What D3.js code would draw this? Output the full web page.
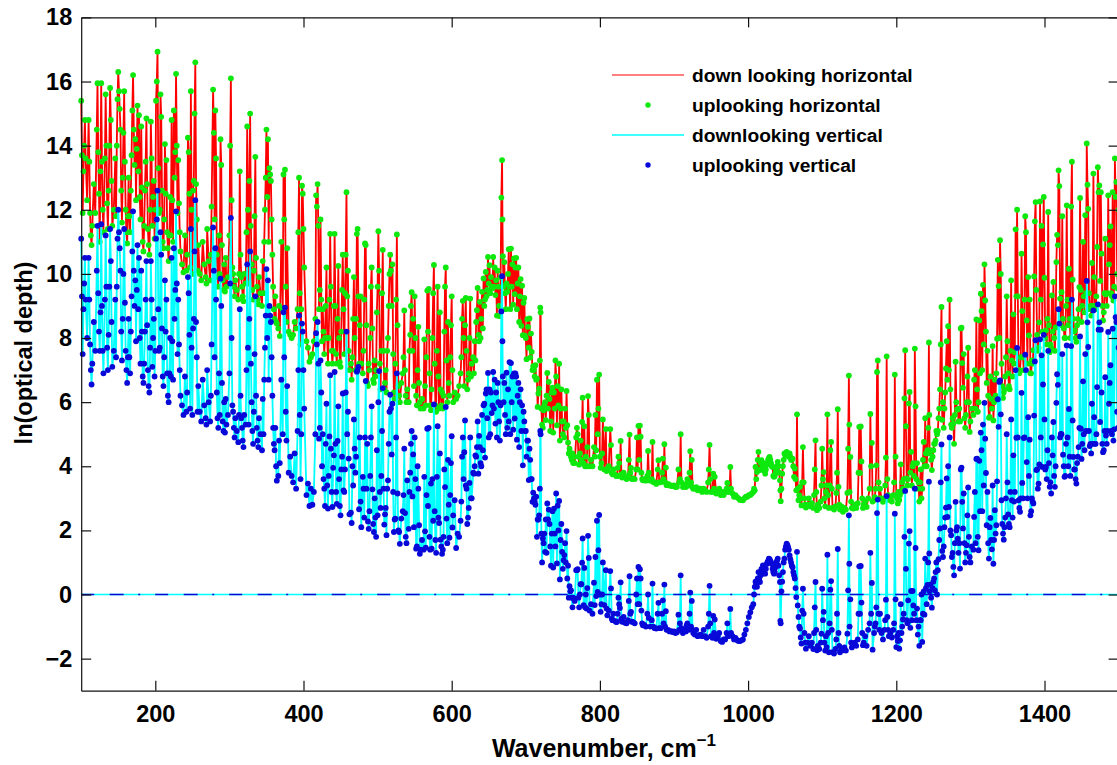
<!DOCTYPE html>
<html>
<head>
<meta charset="utf-8">
<title>Optical depth</title>
<script src="https://cdn.jsdelivr.net/npm/d3@7"></script>
<style>
  html, body { margin: 0; padding: 0; background: #fff; overflow: hidden; }
  text { font-family: "Liberation Sans", Arial, sans-serif; font-weight: bold; fill: #000; }
</style>
</head>
<body>
<div id="chart"></div>
<script>
// Values, one row per group of ten points
const wavenumbers = [
  100,101,102,103,104,105,106,108,110,111,
  112,113,114,115,117,119,121,122,123,124,
  125,126,127,128,129,130,132,133,134,135,
  136,137,138,139,140,141,142,144,146,147,
  148,149,150,151,152,153,154,155,156,157,
  158,159,160,161,162,163,164,165,166,167,
  168,169,170,171,172,173,174,175,176,177,
  178,179,180,181,182,183,184,185,186,187,
  188,189,190,191,192,193,194,195,196,197,
  198,199,200,201,202,203,204,205,206,207,
  208,209,210,211,212,213,214,215,216,217,
  218,219,220,221,222,223,224,225,226,227,
  228,229,230,231,232,233,234,236,238,240,
  242,243,244,245,246,247,248,249,250,251,
  252,253,254,255,256,257,258,260,262,264,
  266,268,269,270,272,274,275,276,278,279,
  280,281,282,283,284,285,286,287,288,289,
  290,291,292,293,294,295,296,298,300,301,
  302,303,304,305,306,307,308,310,312,313,
  314,315,316,317,318,319,320,322,323,324,
  325,326,327,328,329,330,331,332,333,334,
  335,336,337,338,339,340,342,344,345,346,
  347,348,349,350,351,352,353,354,355,356,
  357,358,359,360,361,362,363,364,366,367,
  368,370,372,373,374,375,376,377,378,380,
  382,384,386,388,390,392,393,394,395,396,
  397,398,399,400,401,404,406,408,410,412,
  414,416,417,418,419,420,421,422,423,424,
  425,426,427,428,429,430,431,432,433,434,
  435,436,437,438,439,440,441,442,443,444,
  445,446,447,448,449,450,451,452,453,454,
  455,456,457,458,459,460,461,462,464,465,
  466,467,468,469,470,471,472,473,474,475,
  476,477,478,480,481,482,483,484,485,486,
  487,488,489,490,491,492,493,494,495,496,
  497,498,499,500,501,502,503,504,505,506,
  507,508,509,510,511,512,513,514,515,516,
  517,518,519,520,521,522,523,524,525,526,
  527,528,529,530,532,534,535,536,537,538,
  539,540,542,543,544,545,546,547,548,549,
  550,551,552,553,554,555,556,557,558,560,
  562,563,564,565,566,567,568,569,570,571,
  572,573,574,575,576,577,578,579,580,581,
  582,583,584,585,586,587,588,589,590,591,
  592,593,594,595,596,597,598,599,600,601,
  602,604,606,608,610,612,613,614,615,616,
  617,618,619,620,621,622,623,624,625,626,
  627,629,630,631,632,633,634,635,636,637,
  638,639,640,641,642,643,644,645,646,647,
  648,649,650,651,652,653,654,655,656,657,
  658,659,660,661,662,663,664,665,666,667,
  668,668.5,669,670,671,672,673,674,675,676,
  677,678,679,680,681,682,683,684,685,686,
  687,688,689,690,691,692,693,694,695,696,
  697,698,699,700,701,702,703,704,705,706,
  707,708,709,710,711,712,713,714,715,716,
  717,718,719,719.5,720,721,722,723,724,725,
  726,727,728,729,730,731,732,733,734,735,
  736,737,738,739,740,741,742,743,744,745,
  746,747,748,749,750,751,752,753,754,755,
  756,757,758,759,760,761,762,763,764,765,
  766,768,769,770,771,772,773,774,775,776,
  776.7,778,779,780,781,782,783,784,785,786,
  788,790,792,793,794,795,796,797,798,799,
  800,801,802,803,804,806,808,809,810,812,
  814,815,816,817,818,820,822,823,824,825,
  826,827,828,829,830,832,834,836,838,839,
  840,841,842,843,845,847,849,850,851,852,
  853,854,855,856,857,858,860,862,864,865,
  866,868,870,871,872,874,876,878,879,880,
  882,884,885,886,887,888,889,890,892,894,
  896,898,900,902,904,906,907,908,909,910,
  912,914,916,917,918,920,921,922,923,924,
  925,926,928,930,932,934,936,938,940,942,
  944,946,947,948,949,950,952,953,954,955,
  957,959,961,963,965,967,969,971,972,973,
  975,976,977,979,981,983,985,987,989,991,
  993,995,997,999,1001,1003,1005,1007,1008,1009,
  1010,1011,1012,1013,1014,1015,1016,1017,1018,1019,
  1020,1021,1022,1023,1024,1025,1026,1027,1028,1029,
  1030,1031,1032,1033,1034,1035,1036,1037,1038,1039,
  1040,1041,1042,1043,1043.5,1044,1045,1046,1047,1048,
  1049,1050,1051,1052,1053,1054,1055,1056,1057,1058,
  1059,1060,1061,1062,1063,1064,1065,1066,1067,1068,
  1069,1070,1071,1072,1073,1074,1075,1076,1077,1078,
  1080,1082,1084,1086,1088,1089,1090,1091,1092,1093,
  1094,1096,1098,1099,1100,1101,1102,1103,1104,1105,
  1106,1107,1108,1109,1110,1111,1112,1113,1114,1116,
  1118,1119,1120,1121,1122,1123,1124,1126,1128,1130,
  1132,1134,1135,1136,1136.6,1137,1138,1139,1140,1142,
  1144,1146,1148,1149,1150,1151,1152,1153,1154,1155,
  1156,1158,1160,1162,1164,1165,1166,1167,1168,1170,
  1171,1172,1173,1174,1175,1176,1177,1178,1180,1182,
  1184,1185,1186,1187,1188,1189,1190,1192,1194,1196,
  1197,1198,1199,1200,1201,1202,1203,1204,1205,1206,
  1207,1208,1209,1210,1211,1212,1213,1214,1215,1216,
  1217,1218,1219,1220,1221,1222,1223,1224,1225,1226,
  1227,1228,1229,1230,1231,1232,1233,1234,1235,1236,
  1237,1238,1239,1240,1241,1242,1243,1244,1244.5,1245,
  1246,1247,1248,1249,1250,1251,1252,1253,1254,1255,
  1256,1257,1258,1259,1260,1261,1262,1263,1264,1265,
  1266,1267,1268,1269,1270,1271,1272,1273,1274,1275,
  1276,1277,1278,1279,1280,1281,1282,1283,1284,1285,
  1286,1287,1288,1289,1290,1291,1292,1293,1294,1295,
  1296,1297,1298,1299,1300,1302,1304,1305,1306,1307,
  1308,1309,1310,1311,1312,1313,1314,1315,1316,1317,
  1318,1319,1320,1321,1322,1323,1324,1325,1326,1327,
  1328,1329,1330,1331,1332,1333,1334,1335,1336,1337,
  1338,1339,1340,1341,1342,1343,1344,1345,1346,1347,
  1348,1349,1350,1351,1352,1353,1354,1355,1356,1357,
  1358,1359,1360,1361,1362,1363,1364,1365,1366,1367,
  1368,1369,1370,1371,1372,1373,1374,1375,1376,1377,
  1378,1379,1380,1381,1382,1383,1384,1385,1386,1387,
  1388,1389,1390,1391,1392,1393,1394,1395,1396,1397,
  1398,1399,1400,1401,1402,1403,1404,1405,1406,1407,
  1408,1409,1410,1411,1412,1413,1414,1415,1416,1417,
  1418,1419,1420,1421,1422,1423,1424,1425,1426,1427,
  1428,1429,1430,1431,1432,1433,1434,1435,1436,1437,
  1438,1439,1440,1441,1442,1443,1444,1445,1446,1447,
  1448,1449,1450,1451,1452,1453,1454,1455,1456,1457,
  1458,1459,1460,1461,1462,1463,1464,1465,1466,1467,
  1468,1469,1470,1471,1472,1473,1474,1475,1476,1477,
  1478,1479,1480,1481,1482,1483,1484,1485,1486,1487,
  1488,1489,1490,1491,1492,1493,1494,1495,1496,1497,
  1498,1499,1500
];

// ln(optical depth), horizontal path (red line, green dots)
const horizontalDepth = [
  15.4,13.7,11.9,13.2,14.0,14.8,13.6,12.3,14.8,13.5,
  11.9,11.2,10.9,11.5,12.8,11.9,14.5,15.95,13.8,12.5,
  11.0,13.2,15.95,13.5,12.0,11.3,13.6,15.6,14.0,12.2,
  11.4,12.6,14.0,15.8,14.8,12.9,11.5,12.0,13.6,11.8,
  14.0,15.45,16.3,15.7,15.15,14.5,12.6,11.6,13.0,14.4,
  15.7,13.5,12.0,11.3,10.95,11.8,13.0,11.8,11.3,12.6,
  13.7,15.1,16.2,14.5,13.4,14.2,12.3,13.9,15.25,13.2,
  14.95,12.4,11.7,14.6,12.7,11.0,10.7,11.5,12.6,13.5,
  14.85,12.8,11.4,10.9,10.6,12.0,14.75,13.6,11.5,12.4,
  12.9,11.1,12.0,15.4,16.0,16.93,13.3,11.9,12.0,15.6,
  14.9,12.6,11.0,10.8,11.7,14.05,12.5,13.55,11.3,10.8,
  10.4,11.2,12.4,11.2,14.8,12.3,11.0,15.1,13.0,13.8,
  16.24,14.0,11.9,13.55,12.2,11.3,10.7,10.3,10.05,11.2,
  10.1,10.6,14.25,13.8,12.5,10.2,15.7,12.0,10.0,12.6,
  12.9,15.0,16.6,12.8,11.7,10.1,10.9,10.0,9.8,11.0,
  10.3,9.9,9.7,11.4,10.4,9.8,10.6,12.1,15.75,14.4,
  11.7,15.1,13.6,10.6,9.9,9.6,11.2,10.0,14.2,13.4,
  10.9,9.8,9.5,10.3,9.45,10.5,9.6,9.9,11.2,14.0,
  16.1,12.3,10.2,10.0,9.6,9.3,9.8,9.5,9.2,10.0,
  13.2,10.6,9.9,9.6,9.3,9.15,10.0,9.7,11.3,14.6,
  12.0,9.7,12.9,15.0,11.5,10.3,9.5,9.2,10.1,11.8,
  13.65,10.5,9.6,9.2,9.05,9.9,9.4,9.0,10.4,9.4,
  11.0,12.0,13.0,14.5,12.4,14.2,11.0,13.3,13.1,12.9,
  11.7,10.6,9.6,8.9,8.6,9.3,8.5,8.45,8.3,9.0,
  8.06,11.0,8.9,13.1,11.7,13.25,9.6,8.5,10.8,8.2,
  8.1,8.0,8.1,8.5,8.3,8.9,11.3,13.0,9.4,7.8,
  8.9,12.75,12.5,11.4,10.2,7.9,7.7,7.26,7.4,7.5,
  7.9,8.6,12.45,12.1,12.8,11.5,8.9,9.5,11.7,9.2,
  7.9,8.9,8.2,7.5,8.0,9.0,10.2,8.0,7.2,8.0,
  9.2,11.25,9.6,7.6,7.2,7.6,9.0,11.25,9.0,7.5,
  7.2,8.6,10.25,8.0,7.25,7.1,8.2,9.5,10.6,8.9,
  7.5,9.4,10.6,12.55,9.3,10.1,7.6,7.0,7.2,6.7,
  7.4,8.6,9.9,8.0,7.0,8.6,11.25,11.4,9.3,7.2,
  8.4,9.3,7.2,6.9,7.6,9.2,10.95,10.9,8.4,6.6,
  6.5,7.2,7.0,8.0,9.6,10.2,8.3,6.7,6.6,7.3,
  6.8,7.0,8.8,9.6,11.33,10.1,7.2,6.4,7.6,9.4,
  10.75,7.6,6.4,6.6,7.0,6.3,7.6,8.0,9.0,10.0,
  10.6,10.1,9.0,10.3,7.5,6.3,6.1,7.2,9.2,11.23,
  8.4,6.5,6.2,6.0,6.6,6.9,7.4,8.86,7.0,6.2,
  6.0,6.4,6.0,7.6,8.1,9.0,9.43,7.6,8.6,6.5,
  9.3,8.0,6.2,5.9,7.0,8.35,6.6,6.0,5.8,6.1,
  5.8,7.96,6.5,5.9,7.4,9.48,8.2,9.53,6.9,5.9,
  5.75,6.4,8.0,9.4,10.28,7.2,5.9,5.7,7.6,9.6,
  6.8,5.8,8.8,6.4,5.9,6.3,5.8,6.2,8.2,9.6,
  10.2,7.3,6.0,8.5,6.6,6.2,7.4,8.4,9.3,7.0,
  6.0,6.3,6.1,6.2,6.5,6.9,7.4,8.6,9.16,8.0,
  6.5,8.4,9.25,7.6,6.4,6.7,6.9,8.0,9.23,6.8,
  7.2,7.4,6.9,7.9,7.3,8.5,8.87,9.56,8.1,7.9,
  9.13,8.0,8.6,9.44,8.3,9.86,9.0,9.2,10.06,9.3,
  9.5,10.53,9.7,10.27,9.4,9.9,9.6,9.55,10.53,9.6,
  10.2,9.34,9.8,8.7,10.1,9.6,9.0,8.68,9.9,12.38,
  13.55,11.7,10.55,9.6,10.37,9.4,8.9,9.7,9.44,10.0,
  10.77,9.6,8.9,10.79,9.6,10.3,9.04,10.48,9.37,10.2,
  10.5,8.9,9.7,10.2,8.5,9.3,9.84,8.38,9.63,8.09,
  9.1,9.25,8.07,8.0,7.34,8.59,8.35,7.7,8.61,7.39,
  8.14,7.57,7.0,7.12,7.0,6.8,7.15,6.7,6.73,5.85,
  6.27,6.42,7.3,8.95,8.8,5.8,5.3,5.2,5.75,5.9,
  6.0,5.44,6.2,6.91,5.8,6.63,6.1,5.1,5.4,6.3,
  6.45,5.05,6.3,5.8,7.3,6.8,5.28,6.5,5.9,7.2,
  4.8,5.8,6.4,5.4,5.0,5.4,4.9,5.8,5.2,6.35,
  5.28,4.74,4.4,4.55,4.4,4.3,4.2,4.4,4.1,4.3,
  4.1,4.9,5.2,5.0,4.3,4.05,4.4,4.8,4.2,5.38,
  6.14,4.1,5.25,4.0,4.3,4.0,4.6,6.19,5.6,4.0,
  4.2,4.0,4.6,4.3,5.6,4.5,6.7,5.0,5.8,6.86,
  4.3,3.95,4.1,4.4,5.46,3.9,5.16,3.85,3.9,4.0,
  5.16,4.66,3.8,3.75,3.9,3.75,3.7,3.7,3.95,4.3,
  4.1,3.7,4.79,3.75,3.65,3.8,3.65,3.6,3.7,4.2,
  4.99,3.8,3.95,3.6,3.62,3.6,3.9,4.9,3.9,5.26,
  4.2,5.27,4.92,3.8,3.6,3.56,3.6,3.55,3.7,4.48,
  3.8,3.55,3.6,4.76,3.51,3.5,3.45,3.9,4.19,3.5,
  3.5,3.8,4.24,3.6,4.69,3.5,3.96,3.41,3.45,3.4,
  3.4,3.38,3.4,3.35,3.36,3.9,3.5,3.6,5.0,3.5,
  3.35,3.4,3.35,3.46,3.6,3.4,3.8,4.47,3.5,4.2,
  3.35,3.3,3.3,3.35,3.25,3.3,3.3,3.2,3.3,3.25,
  3.2,3.5,3.9,4.67,3.6,3.2,3.2,3.77,3.3,3.67,
  3.15,3.2,3.3,3.1,3.2,3.1,3.2,3.3,3.48,3.2,
  3.2,3.98,3.3,3.15,3.05,3.1,3.04,3.0,2.95,2.95,
  2.94,3.0,3.05,3.05,3.1,3.1,3.15,3.2,3.3,3.25,
  3.98,3.6,3.82,4.2,4.45,3.9,3.88,4.1,4.19,3.9,
  4.0,4.1,3.85,3.77,3.9,4.05,4.1,4.2,4.25,4.29,
  4.2,4.1,4.0,3.98,3.7,3.67,3.7,3.8,3.9,4.0,
  4.14,4.0,3.8,3.56,3.25,2.91,3.3,3.77,4.0,4.2,
  4.4,4.35,4.4,4.45,4.4,4.35,4.3,4.4,4.3,4.2,
  4.2,4.24,4.0,3.67,3.93,3.6,3.25,5.62,3.3,2.94,
  3.1,3.36,3.0,2.78,3.5,4.6,3.5,3.0,2.8,2.71,
  2.8,3.0,2.75,2.85,2.7,3.1,3.9,4.81,3.2,2.63,
  2.8,2.7,2.9,3.4,4.55,3.6,3.82,3.0,2.75,3.2,
  3.4,5.62,3.1,2.7,3.4,4.5,4.76,3.3,2.7,2.65,
  2.75,3.17,3.8,5.78,3.36,2.8,2.65,2.75,2.58,2.7,
  2.65,3.17,4.55,6.83,5.3,3.2,4.29,2.9,2.7,2.68,
  2.8,2.7,2.85,3.8,5.23,3.79,5.24,4.15,3.0,2.7,
  2.8,2.9,2.73,3.0,3.3,5.63,4.0,4.73,2.9,2.95,
  3.04,3.3,4.03,6.94,7.3,3.5,3.0,3.3,3.0,2.89,
  3.0,3.4,4.27,7.43,3.6,3.1,2.95,3.0,2.9,3.1,
  3.5,6.86,4.3,3.1,3.0,2.84,3.2,2.95,3.1,4.06,
  3.2,3.5,3.3,3.6,6.12,7.62,5.25,3.62,3.4,3.6,
  5.96,6.32,3.8,4.45,3.4,4.0,4.1,3.7,7.67,5.87,
  3.6,4.1,3.3,3.5,2.9,3.5,3.9,3.0,3.3,4.2,
  4.76,4.0,5.5,4.4,4.0,4.5,5.2,7.86,5.6,4.4,
  4.5,4.2,3.88,4.3,4.5,4.7,4.7,4.8,5.1,5.0,
  5.1,5.5,5.8,6.4,7.8,8.97,5.45,6.0,5.2,5.8,
  6.3,7.05,7.9,6.7,8.37,7.0,9.2,6.4,5.3,5.2,
  5.5,5.33,4.7,5.6,7.26,6.0,5.77,5.77,5.4,5.8,
  5.4,8.3,8.32,7.22,6.45,7.5,5.5,5.2,5.6,6.0,
  6.8,7.7,6.0,5.07,5.4,5.8,5.6,6.7,7.0,5.8,
  8.58,6.4,5.7,6.0,8.55,6.9,9.38,8.84,7.0,9.66,
  7.8,10.3,9.17,8.2,6.6,7.6,6.2,5.51,5.54,6.8,
  6.1,5.8,7.75,5.43,6.0,6.7,6.2,6.9,7.98,10.44,
  9.62,8.0,11.05,10.0,7.2,6.5,6.13,6.3,6.4,6.8,
  7.4,9.3,7.9,6.9,6.5,6.4,7.6,9.8,7.3,6.8,
  8.74,7.2,7.56,11.39,9.3,12.0,9.3,7.0,6.9,6.99,
  7.4,10.63,8.84,7.4,7.0,9.2,11.8,11.3,8.55,7.2,
  9.9,8.08,9.2,6.9,6.9,7.3,7.2,7.62,9.92,11.64,
  12.24,9.5,8.1,7.6,7.7,8.49,12.26,9.2,11.5,8.2,
  10.92,12.4,9.88,8.0,8.24,7.8,8.6,11.93,8.4,7.56,
  7.8,7.7,9.33,8.2,9.75,8.0,7.6,8.33,10.37,11.22,
  10.9,13.23,12.74,9.23,8.4,9.43,11.8,8.6,8.3,8.0,
  8.0,9.0,12.14,9.2,8.4,10.16,8.6,8.0,12.1,13.5,
  9.82,8.6,8.2,8.24,8.0,7.88,8.4,8.6,8.9,9.59,
  12.37,9.5,8.5,9.0,11.0,9.3,8.8,11.83,9.4,14.07,
  12.78,12.03,9.4,8.9,9.0,8.7,10.34,9.0,13.13,9.9,
  9.0,8.9,9.3,10.84,13.33,12.55,12.76,9.78,12.55,10.63,
  9.0,8.55,8.8,9.4,11.1,9.36,9.0,9.4,12.45,10.3,
  10.9,11.48,9.4,9.3,12.55,9.17,9.6,13.6,12.4,12.87,
  10.0,9.54,12.0
];

// ln(optical depth), vertical path (cyan line, blue dots)
const verticalDepth = [
  11.1,9.3,7.5,8.9,9.7,10.5,9.2,8.0,10.5,9.2,
  7.8,7.0,6.55,7.2,8.5,7.6,10.1,11.5,9.4,8.2,
  7.6,8.8,11.55,9.0,7.6,6.9,9.2,11.2,9.6,7.7,
  7.0,8.1,9.6,11.4,10.4,8.5,7.1,7.6,9.2,7.4,
  9.6,11.1,12.0,11.3,10.8,10.1,8.2,7.3,8.6,10.0,
  11.4,9.1,7.6,7.0,6.6,7.4,8.6,7.4,6.9,8.2,
  9.3,10.7,11.95,10.1,9.0,9.8,7.9,9.5,10.9,8.9,
  10.5,8.0,7.2,10.1,8.2,6.8,6.6,7.2,8.2,9.2,
  10.4,8.4,7.0,6.5,6.3,7.7,10.4,9.2,7.1,8.0,
  8.6,6.8,7.6,11.1,11.7,12.6,8.9,7.6,7.7,11.3,
  10.6,8.3,6.8,6.5,7.4,9.8,8.2,9.2,6.9,6.2,
  6.0,6.9,8.0,6.8,10.5,7.9,6.7,10.8,8.6,9.5,
  11.95,9.7,7.5,9.2,7.8,7.0,6.2,5.9,5.6,6.8,
  5.7,6.3,9.9,9.4,8.1,5.8,11.4,7.7,5.6,8.3,
  8.6,10.7,12.3,8.5,7.4,5.7,6.5,5.7,5.4,6.7,
  5.9,5.5,5.3,7.0,6.0,5.4,6.2,7.8,11.45,10.1,
  7.4,10.8,9.2,6.3,5.5,5.2,6.9,5.6,9.85,9.0,
  6.6,5.4,5.1,6.0,5.05,6.1,5.3,5.6,6.9,9.7,
  11.75,8.0,5.9,5.7,5.2,4.9,5.5,5.1,4.75,5.6,
  8.9,6.2,5.5,5.2,4.8,4.6,5.6,5.3,7.0,10.3,
  7.7,5.3,8.6,10.7,7.2,6.0,5.1,4.7,5.7,7.5,
  9.3,6.2,5.2,4.8,4.6,5.5,5.0,4.5,6.1,5.0,
  6.7,7.7,8.7,10.15,8.0,9.8,6.7,9.0,8.7,8.5,
  7.4,6.2,5.2,4.7,4.5,5.2,4.0,3.55,3.7,4.8,
  4.1,6.7,5.0,8.8,7.4,8.95,5.7,4.8,6.5,3.8,
  4.3,3.7,3.5,4.4,3.3,5.1,7.0,8.7,5.6,3.6,
  5.0,8.45,8.2,7.0,5.8,3.1,3.46,2.76,3.3,2.8,
  3.2,5.0,8.15,7.8,8.5,7.2,4.86,5.2,7.3,6.3,
  4.0,5.0,3.6,3.3,2.76,4.7,5.95,3.4,2.68,3.7,
  4.93,6.84,4.55,3.2,2.73,3.95,4.34,6.94,4.7,3.2,
  2.83,4.79,5.87,3.6,2.76,2.47,3.9,4.3,6.27,3.25,
  3.2,3.9,6.3,8.2,5.0,5.7,4.24,2.5,2.55,2.23,
  4.0,3.4,5.46,4.55,3.8,4.3,6.95,7.0,7.1,2.66,
  4.9,2.9,2.1,3.67,3.3,2.4,4.9,6.66,3.3,4.7,
  2.28,2.05,2.6,3.7,4.9,5.87,3.28,2.2,1.95,3.0,
  2.4,1.8,4.5,2.47,6.0,6.97,3.2,2.7,3.7,5.1,
  6.44,3.3,2.18,2.5,2.7,1.85,3.3,3.56,4.7,5.7,
  6.23,5.8,4.37,5.95,3.2,1.95,2.34,2.37,4.9,6.9,
  3.15,2.0,1.95,1.58,2.37,2.6,3.1,4.55,2.54,1.8,
  1.6,3.56,2.05,3.2,3.8,4.7,5.1,3.06,4.37,2.1,
  4.9,3.6,1.43,1.5,4.0,3.3,2.16,1.27,1.4,1.7,
  1.4,3.67,1.97,1.46,3.1,5.17,2.76,5.2,1.8,1.4,
  3.46,1.43,3.6,2.3,5.93,2.6,1.7,1.3,3.67,5.25,
  2.4,2.23,4.4,1.71,1.5,1.27,1.4,1.8,3.9,3.35,
  5.85,2.37,1.6,4.2,2.8,1.77,3.1,4.1,4.94,2.09,
  2.47,2.94,1.45,1.9,1.8,2.3,2.9,4.3,4.9,3.6,
  4.44,5.43,3.4,3.3,2.2,2.4,2.7,3.48,4.9,3.0,
  3.0,3.8,3.77,4.0,4.34,4.3,4.6,5.4,3.77,4.95,
  4.6,4.1,4.0,5.6,4.5,5.9,5.95,4.27,6.27,6.4,
  5.5,6.91,4.9,6.4,5.0,6.3,5.66,5.9,6.94,5.8,
  6.7,5.33,6.3,4.9,6.6,6.0,5.4,4.8,5.9,8.83,
  9.93,7.9,6.8,6.0,6.6,5.6,5.0,6.92,5.2,6.4,
  5.4,7.25,5.0,7.22,6.0,6.8,5.14,6.9,5.49,6.9,
  6.8,4.83,6.2,6.6,4.6,6.0,6.4,5.1,5.9,4.03,
  5.7,5.4,5.1,5.1,4.3,4.8,4.8,3.57,4.55,4.2,
  3.6,3.6,2.89,3.18,3.0,2.9,2.8,3.05,1.8,2.34,
  2.34,2.47,3.3,5.1,5.0,1.9,1.0,1.75,1.6,1.9,
  1.33,2.34,1.3,2.84,2.34,2.65,2.2,1.5,0.9,1.9,
  2.6,0.84,2.68,1.9,1.5,3.15,0.97,2.77,2.0,2.92,
  0.47,1.7,2.2,1.33,0.8,1.07,1.23,1.6,1.0,1.98,
  0.5,0.9,-0.1,0.26,0.1,0.13,-0.1,-0.4,-0.1,-0.13,
  -0.2,0.76,0.76,0.79,-0.1,-0.4,0.0,0.32,0.32,0.99,
  1.75,-0.33,0.83,-0.4,0,-0.44,0.2,1.83,1.14,-0.5,
  -0.3,-0.6,0.37,-0.33,1.17,-0.05,2.3,0.08,1.38,2.48,
  0,-0.54,-0.3,0,1.0,-0.33,0.76,-0.44,-0.65,-0.5,
  0.73,0.19,-0.75,-0.8,-0.6,-0.82,-0.86,-0.85,-0.6,-0.1,
  -0.3,-0.42,0.38,-0.75,-0.85,-0.7,-0.88,-0.9,-0.8,-0.2,
  0.57,-0.6,-0.54,-0.85,-0.86,-0.9,0,0.5,-0.3,0.86,
  -0.3,0.79,0.5,-0.5,-0.9,-0.96,-0.95,-1.0,-0.6,0,
  -0.73,-1.0,-0.8,0.34,-1.0,-1.05,-1.06,-0.6,-0.26,-1.05,
  -1.05,-0.6,-0.18,-0.9,0.31,-1.0,-0.52,-1.1,-1.1,-1.15,
  -1.14,-1.17,-1.15,-1.2,-1.18,-0.63,-1.1,-0.9,0.6,-1.05,
  -1.2,-1.1,-1.15,-0.96,-0.9,-1.1,-0.6,0.06,-1.0,-0.2,
  -1.1,-1.2,-1.25,-1.1,-1.3,-1.27,-1.25,-1.3,-1.1,-1.3,
  -1.35,-1.0,-0.6,0.27,-0.9,-1.3,-1.35,-0.67,-1.2,-0.78,
  -1.38,-1.3,-1.2,-1.45,-1.48,-1.4,-1.4,-1.2,-0.9,-1.3,
  -1.27,-0.45,-1.2,-1.3,-1.4,-1.35,-1.42,-1.45,-1.45,-1.43,
  -1.4,-1.25,-1.1,-0.9,-0.7,-0.55,-0.4,-0.3,0,0.24,
  0.4,0.3,0.24,0.5,0.7,0.5,0.39,0.6,0.8,0.65,
  0.91,0.7,0.75,0.65,0.8,0.95,1.0,1.05,1.12,1.1,
  1.05,1.0,0.95,0.8,0.7,0.65,0.7,0.85,1.0,1.05,
  1.12,0.9,0.6,0.39,-0.82,-0.9,0.1,0.4,0.7,1.0,
  1.12,1.4,1.5,1.59,1.55,1.48,1.4,1.22,1.1,1.0,
  0.9,0.85,0.7,0.6,0.5,0.2,-0.08,1.33,-0.34,-0.7,
  -1.0,-1.06,-1.34,-1.53,-0.5,0.18,-0.6,-1.2,-1.5,-1.69,
  -1.5,-1.3,-1.6,-1.5,-1.7,-1.2,-0.4,0.39,-1.1,-1.74,
  -1.6,-1.7,-1.5,-1.22,0.18,-0.8,-0.54,-1.5,-1.75,-1.3,
  -1.64,1.24,-1.2,-1.8,-0.9,0.15,0.42,-1.1,-1.8,-1.84,
  -1.7,-1.4,-0.6,1.42,-1.2,-1.6,-1.8,-1.7,-1.74,-1.65,
  -1.75,-1.22,0.13,2.47,0.96,-1.0,-0.15,-1.5,-1.65,-1.58,
  -1.5,-1.6,-1.4,-0.6,0.88,-0.6,0.89,-0.25,-1.2,-1.58,
  -1.5,-1.3,-1.6,-1.1,-0.9,1.3,-0.6,0.36,-1.72,-1.2,
  -1.0,-0.9,-0.4,2.54,2.96,-0.6,-1.1,-0.6,-1.2,-1.4,
  -1.1,-0.8,-0.16,3.07,-0.7,-1.1,-1.3,-1.2,-1.34,-1.1,
  -0.9,2.52,-0.15,-1.64,-1.3,-1.45,-1.2,-1.69,-1.43,-0.3,
  -1.2,-1.0,-0.78,-0.6,1.8,3.23,0.8,-0.8,-0.9,-0.18,
  1.59,1.98,-1.04,0.11,-0.8,0.11,-0.34,-0.6,3.3,1.45,
  -0.8,-0.44,-1.25,-1.0,-1.6,-0.8,-0.8,0.0,-1.48,-0.6,
  0.1,-0.63,1.12,0.2,-0.3,0.3,1.0,3.52,1.28,0.1,
  0.31,-0.1,-0.41,0.2,0.4,0.5,0.13,0.7,1.0,0.0,
  0.76,1.1,1.7,2.06,3.5,4.68,1.36,1.17,1.5,2.1,
  2.4,2.71,3.62,2.42,4.0,2.73,4.9,2.0,1.85,1.17,
  1.3,0.86,0.6,1.6,2.89,2.0,2.1,1.74,1.3,1.6,
  0.81,3.9,3.96,2.89,2.06,3.15,1.6,1.0,1.3,1.54,
  2.47,3.34,1.8,1.17,1.0,1.5,1.4,2.42,3.2,1.6,
  4.23,4.24,1.8,1.38,4.17,2.6,5.05,4.5,2.6,5.3,
  3.4,5.98,4.86,3.79,2.16,3.2,1.6,1.12,2.1,2.39,
  1.7,1.41,3.4,0.96,1.7,2.63,1.9,2.16,3.53,6.09,
  5.23,6.63,6.68,5.62,2.94,2.2,1.9,1.71,2.1,2.4,
  3.0,5.0,3.5,2.5,2.2,2.1,3.2,5.46,2.94,2.4,
  4.34,2.9,3.2,7.0,4.89,7.69,4.9,2.94,2.7,2.58,
  3.0,6.29,3.48,3.0,4.88,4.9,7.48,7.0,4.13,3.0,
  5.53,3.7,4.83,2.47,2.6,3.0,2.9,2.84,5.58,7.27,
  7.93,3.88,3.9,3.3,3.46,4.06,7.96,4.9,7.46,3.98,
  6.55,8.1,5.46,3.9,3.98,3.6,4.5,7.6,4.1,3.36,
  3.5,3.15,4.9,4.34,5.38,3.7,3.36,4.0,5.98,6.87,
  6.54,8.9,8.45,4.9,5.01,5.0,7.5,4.36,4.0,3.67,
  3.7,4.7,7.77,4.9,4.0,5.79,4.3,3.7,7.75,9.2,
  5.43,4.29,3.9,3.9,3.6,3.46,4.1,4.3,4.6,5.2,
  8.05,5.17,4.23,4.7,6.65,5.0,4.5,7.5,5.1,9.78,
  8.49,7.72,5.1,4.63,4.7,4.4,5.95,4.7,8.86,5.53,
  4.7,4.7,5.0,6.47,9.05,8.26,8.49,5.38,8.26,6.3,
  4.7,4.44,4.5,5.1,6.78,4.96,4.7,5.1,8.19,5.95,
  6.6,7.15,5.1,5.0,8.29,4.8,5.15,9.3,8.65,8.5,
  5.7,5.2,7.7
];

// Flat line at zero that both vertical curves fall back on
const zeroWavenumbers = [100, 1500];
const zeroDepth = [0, 0];

const xTicks = [200, 400, 600, 800, 1000, 1200, 1400];
const yTicks = [18, 16, 14, 12, 10, 8, 6, 4, 2, 0, -2];
const legendLabels = ["down looking horizontal", "uplooking horizontal", "downlooking vertical", "uplooking vertical"];

if (wavenumbers.length !== horizontalDepth.length || wavenumbers.length !== verticalDepth.length) {
    throw new Error(`lengths differ: ${wavenumbers.length} ${horizontalDepth.length} ${verticalDepth.length}`);
}

// Setup dimensions and SVG
const width = 1117, height = 765;
const svg = d3.select("#chart").append("svg")
    .attr("width", width)
    .attr("height", height)
    .style("display", "block");

const x = d3.scaleLinear().domain([100, 1500]).range([81.2, 1118.6]);
const y = d3.scaleLinear().domain([-3, 18]).range([690.7, 17.4]);

const RED = "#ff0000", GREEN = "#0de80d", CYAN = "#00ffff", BLUE = "#0808d8";
const DOT_R = 2.9;

const horizontalPoints = d3.zip(wavenumbers, horizontalDepth);
const verticalPoints = d3.zip(wavenumbers, verticalDepth);
const zeroPoints = d3.zip(zeroWavenumbers, zeroDepth);

const line = d3.line().x(d => x(d[0])).y(d => y(d[1]));

function drawLine(points, color, lineWidth) {
    return svg.append("path")
        .datum(points)
        .attr("fill", "none")
        .attr("stroke", color)
        .attr("stroke-width", lineWidth)
        .attr("stroke-linejoin", "round")
        .attr("d", line);
}

function drawDots(points, color) {
    svg.append("g").selectAll("circle")
        .data(points)
        .enter()
        .append("circle")
        .attr("cx", d => x(d[0]))
        .attr("cy", d => y(d[1]))
        .attr("r", DOT_R)
        .attr("fill", color);
}

// Same draw order as the legend
drawLine(horizontalPoints, RED, 1.8);
drawDots(horizontalPoints, GREEN);
drawLine(verticalPoints, CYAN, 1.8);
drawLine(zeroPoints, CYAN, 1.6);
drawLine(zeroPoints, BLUE, 1.5).attr("stroke-dasharray", "13,15.5,14,14.5,2,15");
drawDots(verticalPoints, BLUE);

// Axes, ticks point inwards on all four sides
const fmt = d => (d < 0 ? "\u2212" + Math.abs(d) : String(d));
const tickLen = 10;

function styleAxis(g) {
    g.selectAll("text").style("font-size", "23.5px");
    g.selectAll("path, line").attr("stroke", "#111").attr("stroke-width", 1.2);
}

svg.append("g")
    .attr("transform", `translate(0,${y(-3)})`)
    .call(d3.axisBottom(x).tickValues(xTicks).tickFormat(fmt)
        .tickSizeInner(-tickLen).tickSizeOuter(0).tickPadding(15))
    .call(styleAxis);

svg.append("g")
    .attr("transform", `translate(0,${y(18)})`)
    .call(d3.axisTop(x).tickValues(xTicks).tickFormat("")
        .tickSizeInner(-tickLen).tickSizeOuter(0))
    .call(styleAxis);

svg.append("g")
    .attr("transform", `translate(${x(100)},0)`)
    .call(d3.axisLeft(y).tickValues(yTicks).tickFormat(fmt)
        .tickSizeInner(-tickLen).tickSizeOuter(0).tickPadding(9))
    .call(styleAxis);

svg.append("g")
    .attr("transform", `translate(${x(1500)},0)`)
    .call(d3.axisRight(y).tickValues(yTicks).tickFormat("")
        .tickSizeInner(-tickLen).tickSizeOuter(0))
    .call(styleAxis);

// Axis titles
const xTitle = svg.append("text")
    .attr("x", 604)
    .attr("y", 757)
    .attr("text-anchor", "middle")
    .style("font-size", "25px");
xTitle.append("tspan").text("Wavenumber, cm");
xTitle.append("tspan").attr("dy", -11).style("font-size", "17px").text("\u22121");

svg.append("text")
    .attr("transform", "translate(32,353) rotate(-90)")
    .attr("text-anchor", "middle")
    .style("font-size", "23.5px")
    .text("ln(optical depth)");

// Legend
const legendRows = [75, 105, 135, 165];
const legend = svg.append("g");

legend.append("line").attr("x1", 612).attr("x2", 684).attr("y1", legendRows[0]).attr("y2", legendRows[0])
    .attr("stroke", RED).attr("stroke-width", 1.2);
legend.append("circle").attr("cx", 648).attr("cy", legendRows[1]).attr("r", 2.7).attr("fill", GREEN);
legend.append("line").attr("x1", 612).attr("x2", 684).attr("y1", legendRows[2]).attr("y2", legendRows[2])
    .attr("stroke", CYAN).attr("stroke-width", 1.6);
legend.append("circle").attr("cx", 648).attr("cy", legendRows[3]).attr("r", 2.7).attr("fill", BLUE);

legend.selectAll("text")
    .data(legendLabels)
    .enter()
    .append("text")
    .attr("x", 692)
    .attr("y", (d, i) => legendRows[i] + 6.5)
    .style("font-size", "19.2px")
    .text(d => d);
</script>
</body>
</html>
